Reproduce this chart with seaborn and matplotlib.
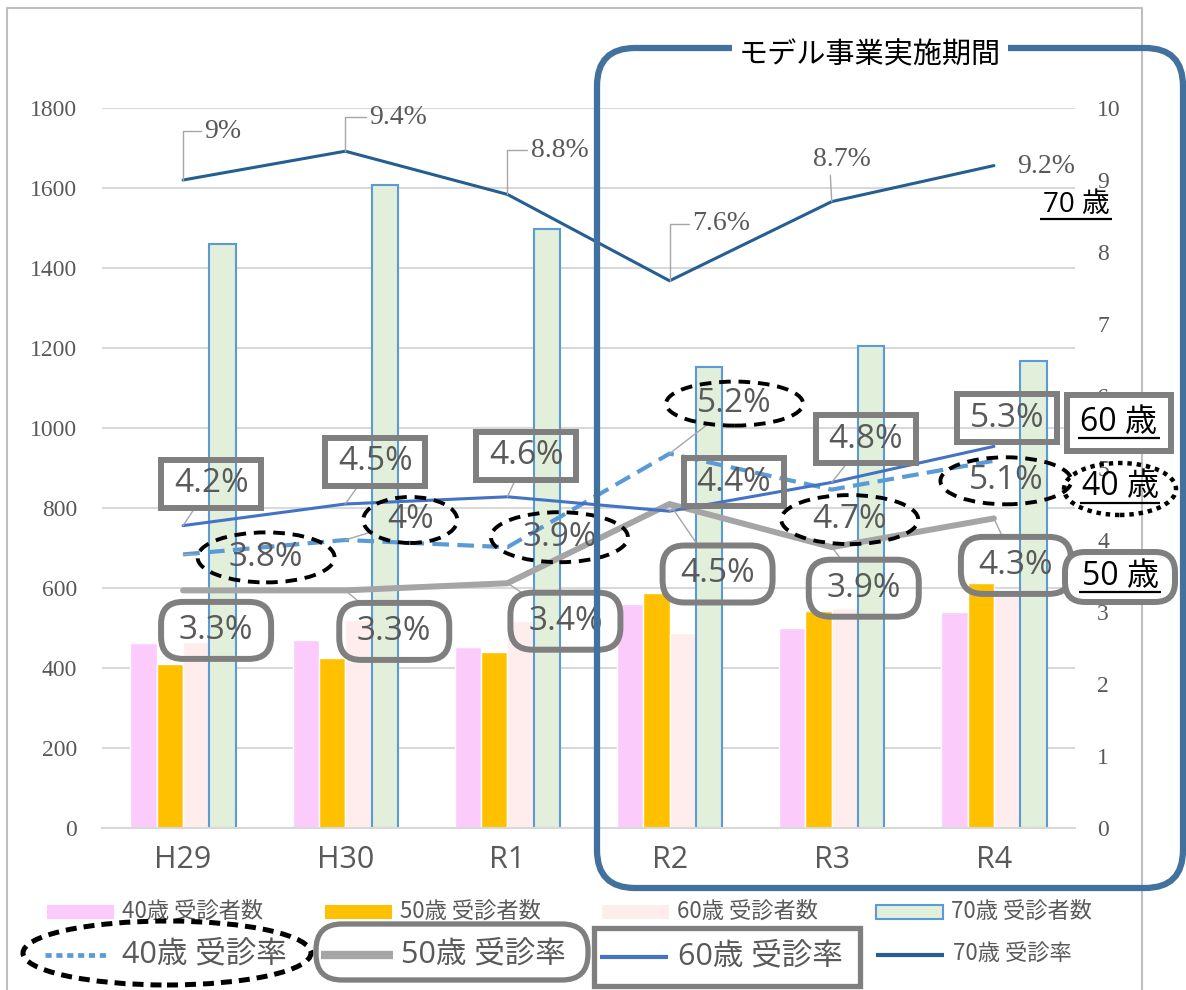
import numpy as np
import pandas as pd
import matplotlib.pyplot as plt
import seaborn as sns
from matplotlib.patches import FancyBboxPatch, Rectangle, Ellipse
from matplotlib.lines import Line2D
from matplotlib.transforms import IdentityTransform

# data
years = ['H29', 'H30', 'R1', 'R2', 'R3', 'R4']
count_40 = [462, 470, 452, 560, 500, 540]
count_50 = [410, 425, 440, 587, 542, 612]
count_60 = [465, 520, 517, 488, 550, 585]
count_70 = [1460, 1608, 1497, 1152, 1205, 1168]
rate_40 = [3.8, 4.0, 3.9, 5.2, 4.7, 5.1]
rate_50 = [3.3, 3.3, 3.4, 4.5, 3.9, 4.3]
rate_60 = [4.2, 4.5, 4.6, 4.4, 4.8, 5.3]
rate_70 = [9.0, 9.4, 8.8, 7.6, 8.7, 9.2]
bar_groups = ['40歳 受診者数', '50歳 受診者数', '60歳 受診者数', '70歳 受診者数']
rate_groups = ['40歳 受診率', '50歳 受診率', '60歳 受診率', '70歳 受診率']

bar_colors = ['#FBCBFC', '#FFC000', '#FFEDED', '#E2EFDA']
line_colors = ['#5B9BD5', '#A5A5A5', '#4472C4', '#255E91']

W, H = 1186, 990
sns.set_theme(style='white')
plt.rcParams['font.family'] = ['Noto Sans CJK JP', 'DejaVu Sans']
SERIF = ['Liberation Serif', 'DejaVu Serif']
SANS = ['Open Sans', 'Noto Sans CJK JP', 'DejaVu Sans']
GREY = '#595959'
BOX = '#7F7F7F'

fig = plt.figure(figsize=(W / 100, H / 100), dpi=100)
ax = fig.add_axes([102 / W, 1 - 828 / H, (1075 - 102) / W, 720 / H])

df = pd.DataFrame({
    'year': years * 4,
    'group': np.repeat(bar_groups, len(years)),
    'count': count_40 + count_50 + count_60 + count_70,
})
sns.barplot(data=df, x='year', y='count', hue='group', hue_order=bar_groups,
            palette=bar_colors, saturation=1, width=0.65, gap=0,
            legend=False, ax=ax, zorder=2)
for p in ax.containers[3]:
    p.set_edgecolor('#5B9BD5')
    p.set_linewidth(1.5)

ax.set_xlim(-0.5, 5.5)
ax.set_ylim(0, 1800)
ax.set_yticks(range(0, 1801, 200))
ax.yaxis.grid(True, color='#D9D9D9', lw=1.5, zorder=0)
ax.set_axisbelow(True)
for s in ['top', 'right', 'left']:
    ax.spines[s].set_visible(False)
ax.spines['bottom'].set_color('#D9D9D9')
ax.spines['bottom'].set_linewidth(1.5)
ax.set_xlabel('')
ax.set_ylabel('')
ax.tick_params(axis='y', length=0, pad=18, labelsize=17, labelcolor=GREY)
ax.tick_params(axis='x', length=0, pad=12, labelsize=22, labelcolor=GREY)
for t in ax.get_yticklabels():
    t.set_family(SERIF)
for t in ax.get_xticklabels():
    t.set_family(SANS)

ax2 = ax.twinx()
ax2.set_ylim(0, 10)
ax2.set_yticks(range(0, 11))
for s in ax2.spines.values():
    s.set_visible(False)
ax2.tick_params(axis='y', length=0, pad=16, labelsize=17, labelcolor=GREY)
for t in ax2.get_yticklabels():
    t.set_family(SERIF)
    t.set_ha('left')

xpos = np.arange(len(years))
sns.lineplot(x=xpos, y=rate_50, ax=ax2, color=line_colors[1], lw=4.3, zorder=3)
sns.lineplot(x=xpos, y=rate_40, ax=ax2, color=line_colors[0], lw=3.0,
             linestyle=(0, (4, 2)), zorder=4)
sns.lineplot(x=xpos, y=rate_60, ax=ax2, color=line_colors[2], lw=2.2, zorder=4)
sns.lineplot(x=xpos, y=rate_70, ax=ax2, color=line_colors[3], lw=2.2, zorder=4)
ax2.set_xlim(-0.5, 5.5)
ax2.set_ylabel('')

ID = IdentityTransform()
LEAD = dict(arrowstyle='-', color='#A6A6A6', lw=1.0, shrinkA=0, shrinkB=0)


def make_patch(kind, cx, cy, w, h):
    if kind == 'square':
        return Rectangle((cx - w / 2, cy - h / 2), w, h, transform=ID, fill=False,
                         ec=BOX, lw=4.3, zorder=9)
    if kind == 'round':
        return FancyBboxPatch((cx - w / 2, cy - h / 2), w, h, transform=ID, fill=False,
                              boxstyle='round,pad=0,rounding_size=22', ec=BOX, lw=4.3,
                              zorder=9)
    return Ellipse((cx, cy), w, h, transform=ID, fill=False, ec='black', lw=2.8,
                   ls=(0, (3, 2)), zorder=9)


def boxed_labels(values, offsets, kind, sizes, leaders):
    for i, (v, (dx, dy)) in enumerate(zip(values, offsets)):
        px, py = ax2.transData.transform((i, v))
        w, h = sizes[i]
        patch = make_patch(kind, px + dx, py + dy, w, h)
        fig.add_artist(patch)
        arrow = dict(LEAD, patchA=patch) if leaders[i] else None
        ax2.annotate(f'{v:g}%', xy=(i, v), xytext=(dx, dy), textcoords='offset pixels',
                     ha='center', va='center', fontsize=24, color=GREY, family=SANS,
                     arrowprops=arrow, zorder=10)


# 70歳: plain serif labels with elbow leaders
off_70 = [(40, 49), (53, 34), (52, 44), (52, 57), (10, 42), (52, -1)]
for i, (v, (dx, dy)) in enumerate(zip(rate_70, off_70)):
    if i in (0, 1, 2, 3):
        arrow = dict(LEAD, relpos=(0, 0.5), connectionstyle='angle,angleA=0,angleB=90,rad=0')
    elif i == 4:
        arrow = dict(LEAD, relpos=(0.3, 0))
    else:
        arrow = None
    ax2.annotate(f'{v:g}%', xy=(i, v), xytext=(dx, dy), textcoords='offset pixels',
                 ha='center', va='center', fontsize=20, color=GREY, family=SERIF,
                 arrowprops=arrow, zorder=10)

boxed_labels(rate_60, [(28, 42), (30, 42), (19, 41), (64, 29), (34, 43), (13, 28)],
             'square', [(100, 48)] * 6, [1, 1, 1, 1, 1, 0])
boxed_labels(rate_40, [(83, -3), (65, 20), (52, 10), (65, 50), (18, -30), (12, -20)],
             'ellipse', [(137, 50), (94, 46), (137, 50), (137, 44), (137, 49), (131, 47)],
             [1, 1, 0, 1, 0, 0])
boxed_labels(rate_50, [(33, -40), (49, -41), (58, -38), (48, -70), (32, -41), (22, -47)],
             'round', [(110, 57)] * 6, [0, 1, 1, 1, 1, 1])


def fxy(x, y):
    return x / W, 1 - y / H


def hline(x0, x1, y, color, lw, ls='-', z=20):
    fig.add_artist(Line2D([x0, x1], [H - y, H - y], transform=ID, color=color, lw=lw,
                          ls=ls, zorder=z, solid_capstyle='butt'))


# outer chart border
fig.add_artist(Line2D([7, 7, 1142, 1142], [0, H - 8, H - 8, 0], transform=ID,
                      color='#BFBFBF', lw=1.5, zorder=1))

# model project period frame
fig.add_artist(FancyBboxPatch((597, H - 888), 586, 840, transform=ID,
                              boxstyle='round,pad=0,rounding_size=38', fc='none',
                              ec='#41719C', lw=4.5, zorder=30))
fig.text(*fxy(870, 55), 'モデル事業実施期間', ha='center', va='center', fontsize=21,
         color='black', zorder=31,
         bbox=dict(boxstyle='square,pad=0.25', fc='white', ec='none'))

# right side age tags
BLK = 'black'
fig.text(*fxy(1076, 205), '70 歳', ha='center', va='center', fontsize=20,
         color=BLK, family=SANS, zorder=32)
hline(1040, 1112, 219, BLK, 1.6, z=32)

fig.add_artist(Rectangle((1067, H - 451), 104, 56, transform=ID, fc='white', ec=BOX,
                         lw=4.3, zorder=31))
fig.text(*fxy(1119, 422), '60 歳', ha='center', va='center', fontsize=23, color=BLK,
         family=SANS, zorder=32)
hline(1078, 1160, 438, BLK, 1.6, z=33)

fig.add_artist(Ellipse((1120, H - 489), 112, 52, transform=ID, fill=False, ec='black',
                       lw=3.2, ls=(0, (1, 1.1)), zorder=31))
fig.text(*fxy(1120, 487), '40 歳', ha='center', va='center', fontsize=23, color=BLK,
         family=SANS, zorder=32)
hline(1080, 1160, 503, BLK, 1.6, z=33)

fig.add_artist(FancyBboxPatch((1065, H - 602), 110, 50, transform=ID, fc='white',
                              boxstyle='round,pad=0,rounding_size=20', ec=BOX, lw=4.3,
                              zorder=31))
fig.text(*fxy(1120, 576), '50 歳', ha='center', va='center', fontsize=23, color=BLK,
         family=SANS, zorder=32)
hline(1079, 1161, 592, BLK, 1.6, z=33)

# legend row 1: bars
patch_x = [47, 325, 602, 876]
for i, g in enumerate(bar_groups):
    x0 = patch_x[i]
    ec = '#5B9BD5' if i == 3 else 'none'
    fig.add_artist(Rectangle((x0, H - 919), 67, 14, transform=ID, fc=bar_colors[i],
                             ec=ec, lw=1.5, zorder=20))
    fig.text(*fxy(x0 + 75, 911), g, ha='left', va='center', fontsize=16, color=GREY,
             zorder=20)

# legend row 2: lines
hline(45, 110, 955, line_colors[0], 3.4, ls=(0, (1.3, 1.0)))
fig.text(*fxy(122, 954), rate_groups[0], ha='left', va='center', fontsize=22, color=GREY,
         family=SANS)
fig.add_artist(Ellipse((167, H - 953), 288, 64, transform=ID, fill=False, ec='black',
                       lw=3.6, ls=(0, (2.2, 1.4)), zorder=21))

hline(321, 393, 955, line_colors[1], 6)
fig.text(*fxy(401, 954), rate_groups[1], ha='left', va='center', fontsize=22, color=GREY,
         family=SANS)
fig.add_artist(FancyBboxPatch((316, H - 980), 272, 56, transform=ID,
                              boxstyle='round,pad=0,rounding_size=26', fc='none',
                              ec=BOX, lw=3.8, zorder=21))

hline(600, 668, 957, line_colors[2], 3)
fig.text(*fxy(678, 956), rate_groups[2], ha='left', va='center', fontsize=22, color=GREY,
         family=SANS)
fig.add_artist(Rectangle((594, H - 986), 266, 58, transform=ID, fill=False,
                         ec=BOX, lw=3.8, zorder=21))

hline(876, 944, 955, line_colors[3], 3)
fig.text(*fxy(953, 954), rate_groups[3], ha='left', va='center', fontsize=16, color=GREY)

fig.savefig('out.png', dpi=100)
